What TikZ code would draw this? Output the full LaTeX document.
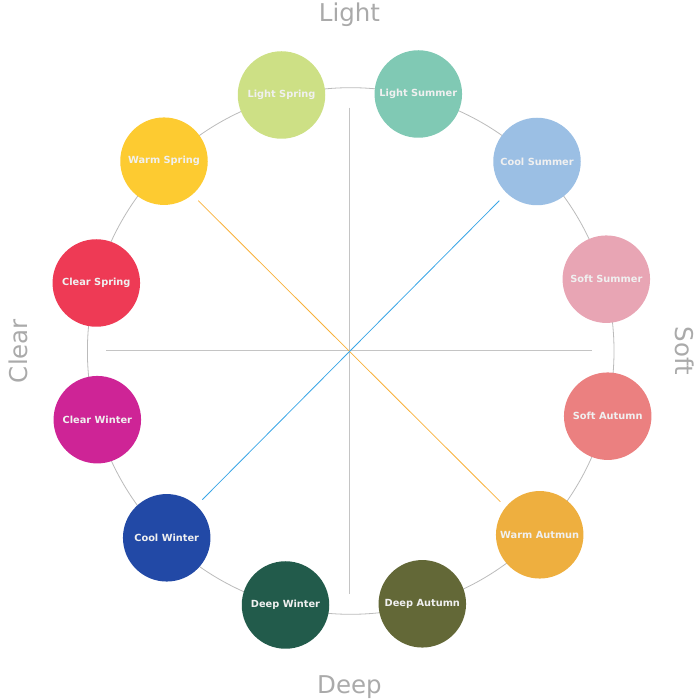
\documentclass[tikz,border=0pt]{standalone}
\usepackage{fontspec}
\setmainfont{DejaVu Sans}
\usetikzlibrary{calc}
\definecolor{ring}{HTML}{BBBBBB}
\definecolor{axis}{HTML}{C4C4C4}
\definecolor{lbl}{HTML}{AAAAAA}
\definecolor{txt}{HTML}{F0F0F0}
\definecolor{cLSp}{HTML}{CDE085}
\definecolor{cLSu}{HTML}{80C9B4}
\definecolor{cCSu}{HTML}{9BBFE4}
\definecolor{cSSu}{HTML}{E8A5B4}
\definecolor{cSAu}{HTML}{EB8080}
\definecolor{cWAu}{HTML}{EEAF3F}
\definecolor{cDAu}{HTML}{636837}
\definecolor{cDWi}{HTML}{225B4B}
\definecolor{cCWi}{HTML}{2249A6}
\definecolor{cClW}{HTML}{CE2496}
\definecolor{cClS}{HTML}{EE3A55}
\definecolor{cWSp}{HTML}{FDCB31}
\definecolor{orangeline}{HTML}{F8B13A}
\definecolor{blueline}{HTML}{3AA6E6}
\tikzset{
  season/.style={circle, minimum size=87.5pt, inner sep=0pt, text=txt, font=\bfseries\fontsize{9.8}{11}\selectfont},
  axislabel/.style={text=lbl, font=\fontsize{24.5}{26}\selectfont, inner sep=0pt},
}
\begin{document}
\begin{tikzpicture}[x=1pt,y=1pt]
\useasboundingbox (0,0) rectangle (700,700);
\coordinate (c) at (349.3,349.3);
\coordinate (rc) at (350.7,349);
\draw[ring, line width=0.8pt] (rc) circle (263.3);
% axes
\coordinate (t) at ($(c)+(0,243)$);
\coordinate (b) at ($(c)+(0,-243)$);
\coordinate (l) at ($(c)+(-243,0)$);
\coordinate (r) at ($(c)+(243,0)$);
\coordinate (ul) at ($(c)+(-151,150)$);
\coordinate (lr) at ($(c)+(151,-151)$);
\coordinate (ur) at ($(c)+(150,150)$);
\coordinate (ll) at ($(c)+(-147,-149)$);
\draw[axis, line width=0.8pt] (t) -- (b);
\draw[axis, line width=0.8pt] (l) -- (r);
\draw[orangeline, line width=0.8pt] (ul) -- (lr);
\draw[blueline, line width=0.8pt] (ur) -- (ll);
% seasons
\node[season, fill=cLSp] (lsp) at (281.5,605) {Light Spring};
\node[season, fill=cLSu] (lsu) at (418.3,606) {Light Summer};
\node[season, fill=cCSu] (csu) at (537,538.5) {Cool Summer};
\node[season, fill=cSSu] (ssu) at (606.3,420.8) {Soft Summer};
\node[season, fill=cSAu] (sau) at (607.7,283.8) {Soft Autumn};
\node[season, fill=cWAu] (wau) at (539.7,165.2) {Warm Autmun};
\node[season, fill=cDAu] (dau) at (422.3,96.2) {Deep Autumn};
\node[season, fill=cDWi] (dwi) at (285.5,95) {Deep Winter};
\node[season, fill=cCWi] (cwi) at (166.7,162.2) {Cool Winter};
\node[season, fill=cClW] (clw) at (97.3,280.3) {Clear Winter};
\node[season, fill=cClS] (cls) at (96.3,417) {Clear Spring};
\node[season, fill=cWSp] (wsp) at (164,538.8) {Warm Spring};
% axis labels
\node[axislabel] (light) at (349.5,685.5) {Light};
\node[axislabel] (deep) at (349.5,12.5) {Deep};
\node[axislabel, rotate=90] (clear) at (18,349) {Clear};
\node[axislabel, rotate=-90] (soft) at (685,349) {Soft};
\end{tikzpicture}
\end{document}
